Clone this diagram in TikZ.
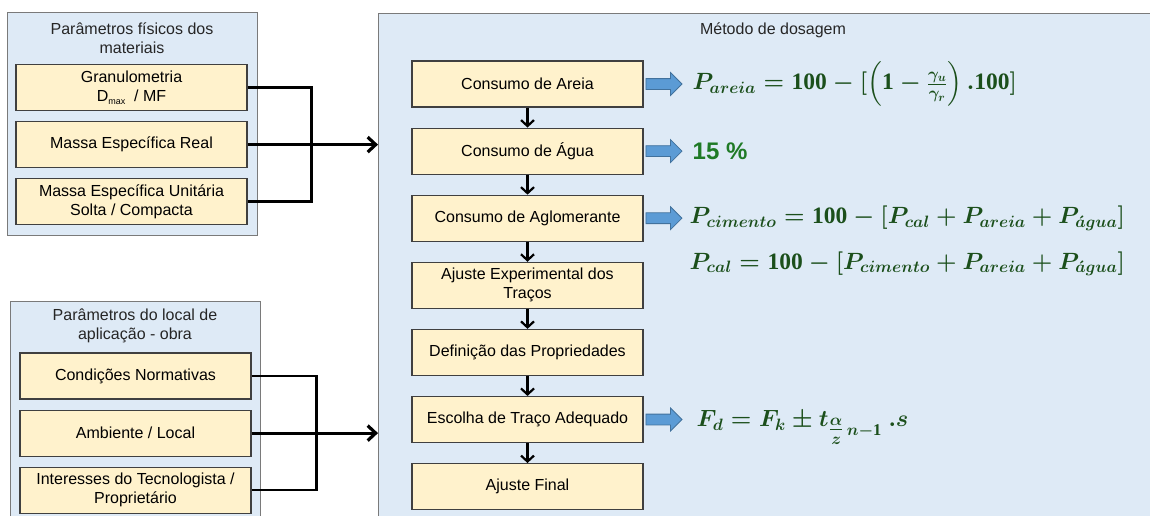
\RequirePackage{fix-cm}
\documentclass[tikz,border=0pt]{standalone}
\usepackage[no-math]{fontspec}
\setmainfont{Liberation Sans}
\newfontfamily\serifnum{Liberation Serif}
\usepackage{amsmath}
\usepackage{bm}
\usepackage{xcolor}
\usepackage{tikz}
\usetikzlibrary{positioning,arrows.meta}
\usetikzlibrary{shapes.arrows}

\newcommand{\nb}[1]{\text{\serifnum\bfseries #1}}

\definecolor{azulpainel}{HTML}{DEEAF6}
\definecolor{bordapainel}{HTML}{7A7A7A}
\definecolor{amarelo}{HTML}{FFF2CC}
\definecolor{azulseta}{HTML}{5B9BD5}
\definecolor{bordaseta}{HTML}{41719C}
\definecolor{verdeformula}{HTML}{1B4F1B}
\definecolor{verdetexto}{HTML}{1F7A26}

\begin{document}
\begin{tikzpicture}[x=1pt,y=-1pt,node distance=20pt]
          \tikzstyle{painel}=[draw=bordapainel,fill=azulpainel,line width=1.2pt,anchor=north west,inner sep=0pt]
          \tikzstyle{caixa}=[draw=black!75,fill=amarelo,line width=1.1pt,minimum width=231pt,minimum height=46pt,align=center,inner sep=2pt,font=\fontsize{16}{19}\selectfont]
          \tikzstyle{titulo}=[align=center,inner sep=0pt,font=\fontsize{16}{19}\selectfont,text=black!85]
          \tikzstyle{linha}=[line width=2.5pt]
          \tikzstyle{entrada}=[line width=3.2pt,-{Straight Barb[length=8pt,width=15pt]}]
          \tikzstyle{passo}=[line width=2.2pt,-{Straight Barb[length=6pt,width=13pt]}]
          \tikzstyle{setaazul}=[single arrow,draw=bordaseta,fill=azulseta,line width=0.8pt,minimum height=36pt,inner sep=5pt,single arrow head extend=6pt]
          \tikzstyle{formula}=[text=verdeformula,inner sep=0pt,font=\fontsize{23.5}{27}\selectfont\boldmath]
          \useasboundingbox (0,0) rectangle (1150,515);
          \clip (0,0) rectangle (1150,515);
          % paineis
          \node[painel,minimum width=250pt,minimum height=223pt] (fisicos) at (7,12) {};
          \node[painel,minimum width=250pt,minimum height=240pt] (local) at (10,301) {};
          \node[painel,minimum width=800pt,minimum height=520pt] (metodo) at (378,13) {};
          \node[titulo] (tfisicos) at (132,38) {Parâmetros físicos dos\\materiais};
          \node[titulo] (tlocal) at (135,326) {Parâmetros do local de\\aplicação - obra};
          \node[titulo] (tmetodo) at (773,30) {Método de dosagem};
          % parametros
          \node[caixa]    (granulo) at (131.5,87.5)     {Granulometria\\D\raisebox{-3pt}{\fontsize{9}{9}\selectfont max}\ \ / MF};
          \node[caixa]    (real)[below=10pt of granulo] {Massa Específica Real};
          \node[caixa]    (unit)[below=10pt of real]    {Massa Específica Unitária\\Solta / Compacta};
          \node[caixa]    (normas) at (135.5,376)       {Condições Normativas};
          \node[caixa]    (ambiente)[below=10pt of normas]    {Ambiente / Local};
          \node[caixa]    (interesses)[below=10pt of ambiente] {Interesses do Tecnologista /\\Proprietário};
          % etapas
          \node[caixa]    (areia) at (527.5,84)   {Consumo de Areia};
          \node[caixa]    (agua)[below=of areia]  {Consumo de Água};
          \node[caixa]    (aglo)[below=of agua]   {Consumo de Aglomerante};
          \node[caixa]    (ajuste)[below=of aglo] {Ajuste Experimental dos\\Traços};
          \node[caixa]    (propr)[below=of ajuste]  {Definição das Propriedades};
          \node[caixa]    (escolha)[below=of propr] {Escolha de Traço Adequado};
          \node[caixa]    (final)[below=of escolha] {Ajuste Final};
          % setas azuis e formulas
          \node[setaazul] (s1)[right=2pt of areia]   {};
          \node[setaazul] (s2)[right=2pt of agua]    {};
          \node[setaazul] (s3)[right=2pt of aglo]    {};
          \node[setaazul] (s6)[right=2pt of escolha] {};
          \node[formula]  (fareia)[right=10pt of s1] {$\bm{P_{areia} = \nb{100} - [\left(\nb{1} - \frac{\gamma_u}{\gamma_r}\right).\nb{100}]}$};
          \node[font=\fontsize{24}{28}\selectfont\bfseries,text=verdetexto,inner sep=0pt] (fagua)[right=10pt of s2] {15 \%};
          \node[formula]  (fcimento)[right=7pt of s3] {$\bm{P_{cimento} = \nb{100} - [P_{cal} + P_{areia} + P_{\acute{a}gua}]}$};
          \node[formula]  (fcal)[below=21pt of fcimento.south west,anchor=north west] {$\bm{P_{cal} = \nb{100} - [P_{cimento} + P_{areia} + P_{\acute{a}gua}]}$};
          \node[formula]  (fd)[right=14pt of s6,yshift=-8pt] {$\bm{F_d = F_k \pm t_{\genfrac{}{}{}{1}{\alpha}{z}\,n-\nb{1}}\ .s}$};
          % ligacoes
          \draw[linha] (granulo.east) -- ++(64,0) |- (unit.east);
          \draw[entrada] (real.east) -- (real.east -| metodo.west);
          \draw[linha] (normas.east) -- ++(65,0) |- (interesses.east);
          \draw[entrada] (ambiente.east) -- (ambiente.east -| metodo.west);
          \foreach \a/\b in {areia/agua,agua/aglo,aglo/ajuste,ajuste/propr,propr/escolha,escolha/final}
            \draw[passo] (\a) -- (\b);
        \end{tikzpicture}
\end{document}
